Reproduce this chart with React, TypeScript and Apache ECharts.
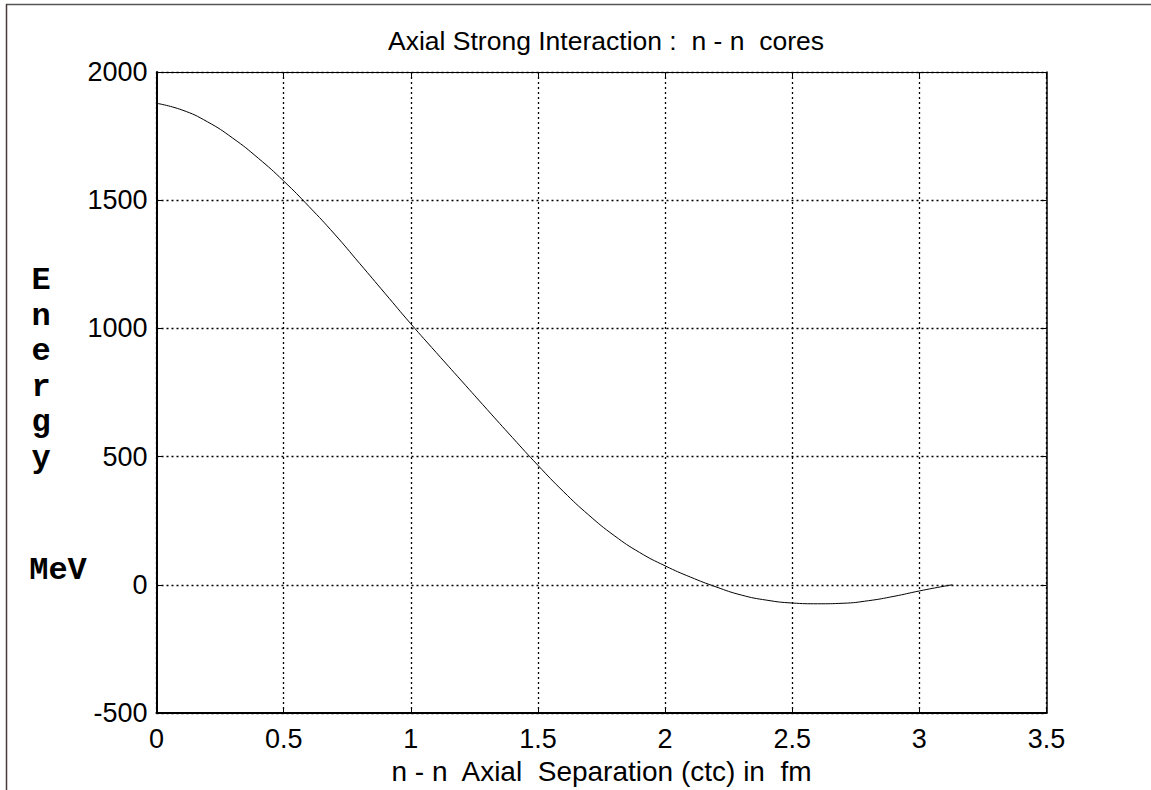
import React, { useEffect, useRef } from "react";
import * as echarts from "echarts";

const separation = [0, 0.1, 0.2, 0.3, 0.4, 0.5, 0.6, 0.7, 0.8, 0.9, 1.0, 1.1, 1.2, 1.3, 1.4, 1.5, 1.6, 1.7, 1.8, 1.9, 2.0, 2.1, 2.2, 2.3, 2.4, 2.5, 2.6, 2.7, 2.8, 2.9, 3.0, 3.1, 3.13];
const energy = [1878, 1852, 1806, 1742, 1664, 1575, 1475, 1368, 1252, 1135, 1018, 906, 795, 684, 574, 466, 364, 272, 192, 126, 74, 30, -8, -40, -60, -71, -74, -72, -62, -45, -24, -5, 0];
const xTicks = [0, 0.5, 1, 1.5, 2, 2.5, 3, 3.5];
const yTicks = [-500, 0, 500, 1000, 1500, 2000];

const titleText = "Axial Strong Interaction :  n - n  cores";
const xLabel = "n - n  Axial  Separation (ctc) in  fm";
const yLabelLetters = ["E", "n", "e", "r", "g", "y"];
const yUnit = "MeV";

const SANS = '"Liberation Sans", Arial, sans-serif';
const MONO = '"Liberation Mono", "Courier New", monospace';

export default function App() {
  const ref = useRef<HTMLDivElement>(null);
  useEffect(() => {
    document.body.style.margin = "0";
    const chart = echarts.init(ref.current!, null, { renderer: "svg" });
    const gridLine = { show: true, lineStyle: { color: "#000", width: 1.3, type: [2, 3] as any } };
    const solidAxis = { show: true, onZero: false, lineStyle: { color: "#000", width: 2 } };
    const plain = (v: number) => String(v);
    chart.setOption({
      animation: false,
      backgroundColor: "#fff",
      title: {
        text: titleText,
        left: 601,
        textAlign: "center",
        top: 22,
        textStyle: { fontFamily: SANS, fontSize: 26.5, fontWeight: "normal", color: "#000" },
      },
      grid: { left: 156.5, right: 104.5, top: 72, bottom: 77, containLabel: false },
      xAxis: [
        {
          type: "value",
          min: xTicks[0],
          max: xTicks[xTicks.length - 1],
          interval: 0.5,
          axisLine: solidAxis,
          axisTick: { show: true, inside: true, length: 6, lineStyle: { color: "#000" } },
          axisLabel: { color: "#000", fontFamily: SANS, fontSize: 27, margin: 12, formatter: plain },
          splitLine: gridLine,
          name: xLabel,
          nameLocation: "middle",
          nameGap: 44,
          nameTextStyle: { color: "#000", fontFamily: SANS, fontSize: 28 },
        },
        {
          type: "value",
          position: "top",
          min: xTicks[0],
          max: xTicks[xTicks.length - 1],
          interval: 0.5,
          axisLine: { show: true, onZero: false, lineStyle: { color: "#000", width: 1 } },
          axisTick: { show: true, inside: true, length: 6, lineStyle: { color: "#000" } },
          axisLabel: { show: false },
          splitLine: { show: false },
        },
      ],
      yAxis: [
        {
          type: "value",
          min: yTicks[0],
          max: yTicks[yTicks.length - 1],
          interval: 500,
          axisLine: solidAxis,
          axisTick: { show: true, inside: true, length: 6, lineStyle: { color: "#000" } },
          axisLabel: { color: "#000", fontFamily: SANS, fontSize: 27, margin: 9, formatter: plain },
          splitLine: gridLine,
        },
        {
          type: "value",
          position: "right",
          min: yTicks[0],
          max: yTicks[yTicks.length - 1],
          interval: 500,
          axisLine: { show: true, onZero: false, lineStyle: { color: "#000", width: 1.5 } },
          axisTick: { show: true, inside: true, length: 6, lineStyle: { color: "#000" } },
          axisLabel: { show: false },
          splitLine: { show: false },
        },
      ],
      graphic: [
        { type: "line", shape: { x1: 6, y1: 4.5, x2: 1151, y2: 4.5 }, style: { stroke: "#555", lineWidth: 1.5 } },
        { type: "line", shape: { x1: 6.5, y1: 4, x2: 6.5, y2: 790 }, style: { stroke: "#4a3a3a", lineWidth: 1.5 } },
        {
          type: "text",
          x: 41,
          y: 263,
          style: {
            text: yLabelLetters.join("\n"),
            font: `bold 32px ${MONO}`,
            lineHeight: 35.5,
            align: "center",
            verticalAlign: "top",
            fill: "#000",
          },
        },
        {
          type: "text",
          x: 58,
          y: 570,
          style: {
            text: yUnit,
            font: `bold 32px ${MONO}`,
            align: "center",
            verticalAlign: "middle",
            fill: "#000",
          },
        },
      ],
      series: [
        {
          type: "line",
          data: separation.map((x, i) => [x, energy[i]]),
          showSymbol: false,
          smooth: 0.5,
          lineStyle: { color: "#000", width: 1 },
          silent: true,
        },
      ],
    });
    return () => chart.dispose();
  }, []);
  return <div ref={ref} style={{ width: 1151, height: 790 }} />;
}
